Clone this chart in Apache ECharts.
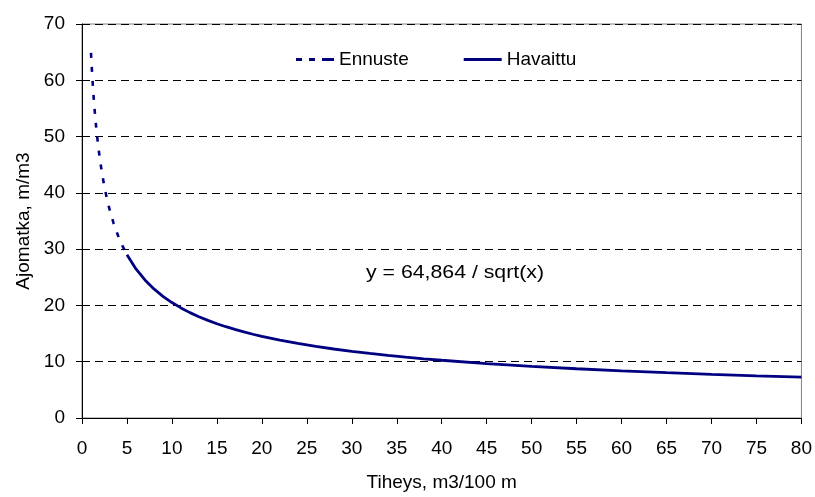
<!DOCTYPE html>
<html>
<head>
<meta charset="utf-8">
<script src="https://cdn.jsdelivr.net/npm/echarts@6/dist/echarts.min.js"></script>
<style>
  html, body { margin: 0; padding: 0; background: #fff; }
  #chart { width: 815px; height: 497px; }
</style>
</head>
<body>
<div id="chart"></div>
<script>
// Forecast part of the curve (dotted): haul distance at low densities
const ennusteX = [1, 1.1, 1.2, 1.3, 1.4, 1.5, 1.6, 1.8, 2, 2.25, 2.5, 2.75, 3, 3.5, 4, 4.5, 5];
const ennusteY = [64.86, 61.85, 59.21, 56.89, 54.82, 52.96, 51.28, 48.35, 45.87, 43.24, 41.02, 39.12,
                  37.45, 34.67, 32.43, 30.58, 29.01];

// Observed part of the curve (solid)
const havaittuX = [5, 6, 7, 8, 9, 10, 11, 12, 13, 14, 15, 16, 17, 18, 19, 20, 22, 24, 26, 28, 30,
                   32, 34, 36, 38, 40, 45, 50, 55, 60, 65, 70, 75, 80];
const havaittuY = [29.01, 26.48, 24.52, 22.93, 21.62, 20.51, 19.56, 18.72, 17.99, 17.34, 16.75, 16.22,
                   15.73, 15.29, 14.88, 14.50, 13.83, 13.24, 12.72, 12.26, 11.84, 11.47, 11.12, 10.81,
                   10.52, 10.26, 9.67, 9.17, 8.75, 8.37, 8.05, 7.75, 7.49, 7.25];

const seriesNames = ['Ennuste', 'Havaittu'];
const xAxisTitle = 'Tiheys, m3/100 m';
const yAxisTitle = 'Ajomatka, m/m3';
const equationText = 'y = 64,864 / sqrt(x)';

const pairs = (xs, ys) => xs.map((x, i) => [x, ys[i]]);
const FONT = '"Liberation Sans", Arial, sans-serif';
const FS = 19;
const NAVY = '#000080';

// Legend keys: a dashed stroke and a solid stroke, 38 px wide
const dashedKey = 'path://M0,0h6v3h-6z M13,0h6v3h-6z M26,0h12v3h-12z';
const solidKey = 'path://M0,0h38v3h-38z';

const chart = echarts.init(document.getElementById('chart'), null, { renderer: 'canvas' });
chart.setOption({
  animation: false,
  backgroundColor: '#ffffff',
  grid: {
    left: 82, right: 13, top: 24, bottom: 77,
    show: true, borderColor: '#808080', borderWidth: 1
  },
  legend: {
    left: 291, top: 45,
    itemWidth: 38, itemHeight: 12, itemGap: 55, itemTextGap: 5,
    symbolKeepAspect: true,
    itemStyle: { borderWidth: 0 },
    textStyle: { fontFamily: FONT, fontSize: FS, color: '#000' },
    data: [
      { name: seriesNames[0], icon: dashedKey },
      { name: seriesNames[1], icon: solidKey }
    ]
  },
  xAxis: {
    type: 'value', min: 0, max: 80, interval: 5,
    name: xAxisTitle, nameLocation: 'middle', nameGap: 55,
    nameTextStyle: { fontFamily: FONT, fontSize: FS, color: '#000' },
    axisLine: { lineStyle: { color: '#000', width: 1 } },
    axisTick: { show: true, length: 6, lineStyle: { color: '#000' } },
    axisLabel: { fontFamily: FONT, fontSize: FS, color: '#000', margin: 21 },
    splitLine: { show: false }
  },
  yAxis: {
    type: 'value', min: 0, max: 70, interval: 10,
    name: yAxisTitle, nameLocation: 'middle', nameGap: 44,
    nameTextStyle: { fontFamily: FONT, fontSize: FS, color: '#000' },
    axisLine: { show: true, lineStyle: { color: '#000', width: 1 } },
    axisTick: { show: true, length: 6, lineStyle: { color: '#000' } },
    axisLabel: { fontFamily: FONT, fontSize: FS, color: '#000', margin: 17 },
    splitLine: { show: true, lineStyle: { color: '#000', width: 1, type: [8, 5] } }
  },
  graphic: [{
    type: 'text', left: 366, top: 263, scaleX: 1.12,
    style: { text: equationText, font: FS + 'px ' + FONT, fill: '#000' }
  }],
  series: [
    {
      name: seriesNames[0], type: 'line', data: pairs(ennusteX, ennusteY),
      showSymbol: false, symbol: 'none',
      lineStyle: { color: NAVY, width: 2.6, type: [5, 9] },
      itemStyle: { color: NAVY }
    },
    {
      name: seriesNames[1], type: 'line', data: pairs(havaittuX, havaittuY),
      showSymbol: false, symbol: 'none',
      lineStyle: { color: NAVY, width: 2.8 },
      itemStyle: { color: NAVY }
    }
  ]
});
</script>
</body>
</html>
